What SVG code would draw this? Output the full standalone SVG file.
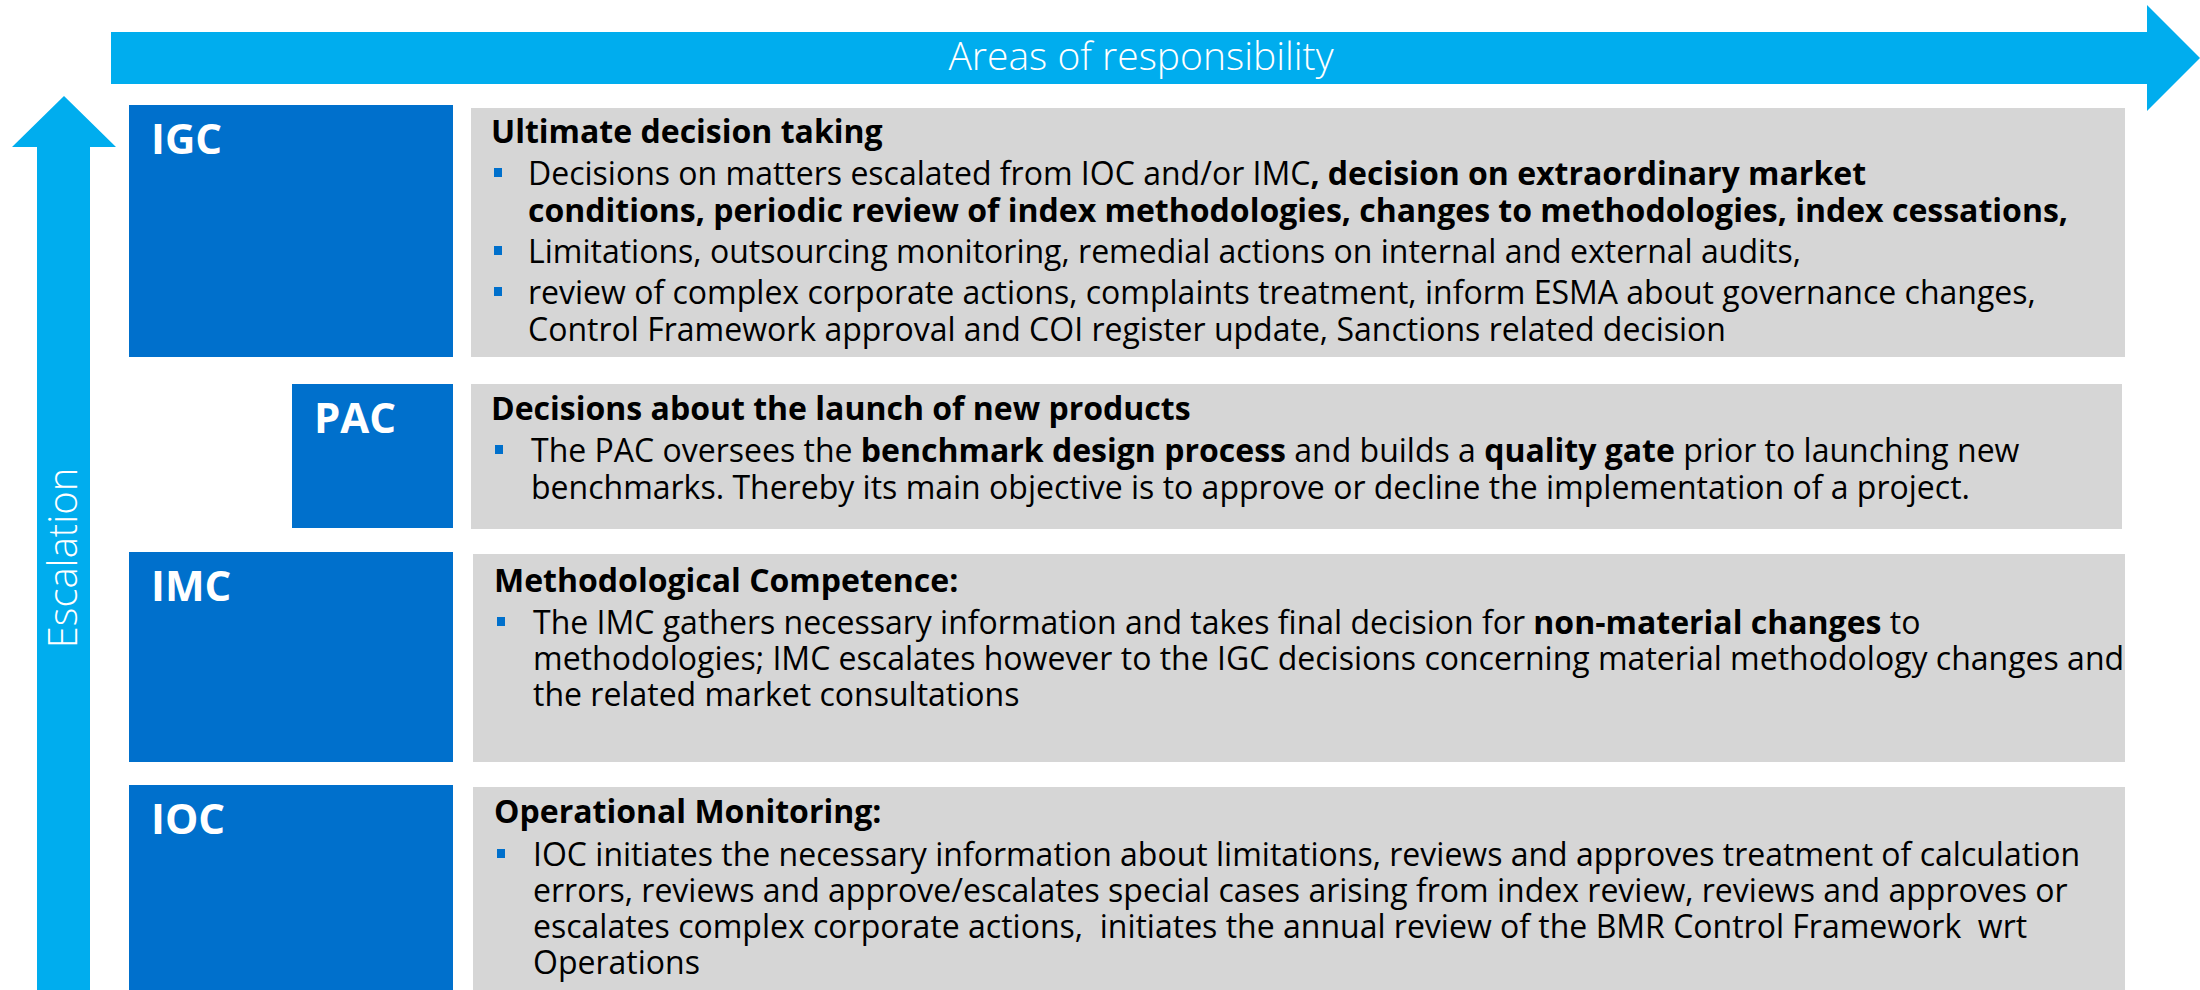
<svg xmlns="http://www.w3.org/2000/svg" width="2200" height="990" viewBox="0 0 2200 990">
<style>
.arrow{fill:#00ADEE}
.lbl{fill:#ffffff;font-family:"Open Sans","Liberation Sans",sans-serif;font-weight:700;font-size:42px}
.blue{fill:#0070CC}
.gray{fill:#D6D6D6}
.axis{fill:#ffffff;font-family:"Open Sans","Liberation Sans",sans-serif;font-weight:300;font-size:39px}
.esc{font-size:40px}
.ttl{fill:#000;font-family:"Open Sans","Liberation Sans",sans-serif;font-weight:700;font-size:32px}
.txt{fill:#000;font-family:"Open Sans","Liberation Sans",sans-serif;font-weight:400;font-size:32px}
.b{font-weight:700}
.bul{fill:#0070CC}
</style>
<g id="arrows">
  <polygon class="arrow" points="111,32 2147,32 2147,5 2200,58 2147,111 2147,84 111,84"/>
  <text class="axis" x="1141" y="70" text-anchor="middle">Areas of responsibility</text>
  <polygon class="arrow" points="37,990 37,147 12,147 64,96 116,147 90,147 90,990"/>
  <text class="axis esc" transform="translate(77,558) rotate(-90)" text-anchor="middle">Escalation</text>
</g>
<g id="igc">
  <rect class="blue" x="129" y="105" width="324" height="252"/>
  <text class="lbl" x="151" y="154">IGC</text>
  <rect class="gray" x="471" y="108" width="1654" height="249"/>
  <text class="ttl" x="491" y="143">Ultimate decision taking</text>
  <rect class="bul" x="494" y="168" width="8" height="9"/>
  <text class="txt" x="528" y="185">Decisions on matters escalated from IOC and/or IMC<tspan class="b">, decision on extraordinary market</tspan></text>
  <text class="txt b" x="528" y="222">conditions, periodic review of index methodologies, changes to methodologies, index cessations,</text>
  <rect class="bul" x="494" y="246" width="8" height="9"/>
  <text class="txt" x="528" y="263">Limitations, outsourcing monitoring, remedial actions on internal and external audits,</text>
  <rect class="bul" x="494" y="287" width="8" height="9"/>
  <text class="txt" x="528" y="304">review of complex corporate actions, complaints treatment, inform ESMA about governance changes,</text>
  <text class="txt" x="528" y="341">Control Framework approval and COI register update, Sanctions related decision</text>
</g>
<g id="pac">
  <rect class="blue" x="292" y="384" width="161" height="144"/>
  <text class="lbl" x="314" y="433">PAC</text>
  <rect class="gray" x="471" y="384" width="1651" height="145"/>
  <text class="ttl" x="491" y="420">Decisions about the launch of new products</text>
  <rect class="bul" x="495" y="445" width="8" height="9"/>
  <text class="txt" x="531" y="462">The PAC oversees the <tspan class="b">benchmark design process</tspan> and builds a <tspan class="b">quality gate</tspan> prior to launching new</text>
  <text class="txt" x="531" y="499">benchmarks. Thereby its main objective is to approve or decline the implementation of a project.</text>
</g>
<g id="imc">
  <rect class="blue" x="129" y="552" width="324" height="210"/>
  <text class="lbl" x="151" y="601">IMC</text>
  <rect class="gray" x="473" y="554" width="1652" height="208"/>
  <text class="ttl" x="494" y="592">Methodological Competence:</text>
  <rect class="bul" x="497" y="617" width="8" height="9"/>
  <text class="txt" x="533" y="634">The IMC gathers necessary information and takes final decision for <tspan class="b">non-material changes</tspan> to</text>
  <text class="txt" x="533" y="670">methodologies; IMC escalates however to the IGC decisions concerning material methodology changes and</text>
  <text class="txt" x="533" y="706">the related market consultations</text>
</g>
<g id="ioc">
  <rect class="blue" x="129" y="785" width="324" height="205"/>
  <text class="lbl" x="151" y="834">IOC</text>
  <rect class="gray" x="473" y="787" width="1652" height="203"/>
  <text class="ttl" x="494" y="823">Operational Monitoring:</text>
  <rect class="bul" x="497" y="849" width="8" height="9"/>
  <text class="txt" x="533" y="866">IOC initiates the necessary information about limitations, reviews and approves treatment of calculation</text>
  <text class="txt" x="533" y="902">errors, reviews and approve/escalates special cases arising from index review, reviews and approves or</text>
  <text class="txt" x="533" y="938" xml:space="preserve">escalates complex corporate actions,  initiates the annual review of the BMR Control Framework  wrt</text>
  <text class="txt" x="533" y="974">Operations</text>
</g>
</svg>
